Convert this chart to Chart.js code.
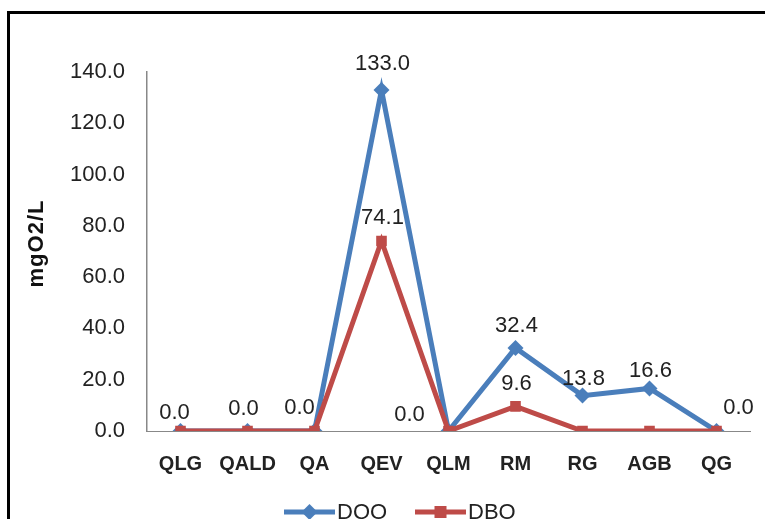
<!DOCTYPE html>
<html>
<head>
<meta charset="utf-8">
<script src="https://cdn.jsdelivr.net/npm/chart.js@4/dist/chart.umd.min.js"></script>
<style>
  html, body { margin: 0; padding: 0; background: #fff; overflow: hidden; width: 765px; height: 519px; }
  #frame { position: absolute; left: 7px; top: 11px; width: 770px; height: 540px;
           border-left: 3px solid #000; border-top: 3px solid #000; }
  #wrap { position: absolute; left: 0; top: 0; width: 765px; height: 540px; }
</style>
</head>
<body>
<div id="frame"></div>
<div id="wrap"><canvas id="chart" width="765" height="540"></canvas></div>
<script>
// Sampling sites
const sites = ['QLG', 'QALD', 'QA', 'QEV', 'QLM', 'RM', 'RG', 'AGB', 'QG'];
// Chemical oxygen demand (mgO2/L)
const dqo = [0.0, 0.0, 0.0, 133.0, 0.0, 32.4, 13.8, 16.6, 0.0];
// Biochemical oxygen demand (mgO2/L)
const dbo = [0.0, 0.0, 0.0, 74.1, 0.0, 9.6, 0.0, 0.0, 0.0];
// Value axis ticks
const yTicks = [0, 20, 40, 60, 80, 100, 120, 140];
const yTitle = 'mgO2/L';

const FONT = '"Liberation Sans", Arial, sans-serif';
const BLUE = '#4A7EBB';
const RED = '#BE4B48';

// Value labels: which points get a label and where it sits relative to the marker
const valueLabels = {
  id: 'valueLabels',
  afterDatasetsDraw(chart, args, opts) {
    const ctx = chart.ctx;
    ctx.save();
    ctx.font = '22px ' + FONT;
    ctx.fillStyle = '#222';
    ctx.textBaseline = 'middle';
    ctx.textAlign = 'center';
    opts.placements.forEach((place, di) => {
      const meta = chart.getDatasetMeta(di);
      const values = chart.data.datasets[di].data;
      meta.data.forEach((pt, i) => {
        const p = place[i];
        if (!p) return;
        ctx.fillText(values[i].toFixed(1), pt.x + p[0], pt.y + p[1]);
      });
    });
    ctx.restore();
  }
};

// Rotated value-axis title, centred on the plot height
const axisTitle = {
  id: 'axisTitle',
  afterDraw(chart, args, opts) {
    const ctx = chart.ctx;
    const area = chart.chartArea;
    ctx.save();
    ctx.translate(opts.x, (area.top + area.bottom) / 2 - 8);
    ctx.rotate(-Math.PI / 2);
    ctx.font = 'bold 22px ' + FONT;
    if ('letterSpacing' in ctx) ctx.letterSpacing = '1px';
    ctx.fillStyle = '#111';
    ctx.textAlign = 'center';
    ctx.textBaseline = 'middle';
    ctx.fillText(opts.text, 0, 0);
    ctx.restore();
  }
};

// Legend drawn as line + marker samples under the plot
const lineLegend = {
  id: 'lineLegend',
  afterDraw(chart, args, opts) {
    const ctx = chart.ctx;
    ctx.save();
    ctx.font = '22px ' + FONT;
    ctx.textBaseline = 'middle';
    chart.data.datasets.forEach((ds, i) => {
      const x0 = opts.items[i];
      const y = opts.y;
      ctx.strokeStyle = ds.borderColor;
      ctx.lineWidth = 5;
      ctx.beginPath();
      ctx.moveTo(x0, y);
      ctx.lineTo(x0 + 51, y);
      ctx.stroke();
      ctx.fillStyle = ds.borderColor;
      const cx = x0 + 25.5;
      if (ds.pointStyle === 'rectRot') {
        ctx.beginPath();
        ctx.moveTo(cx, y - 8); ctx.lineTo(cx + 8, y); ctx.lineTo(cx, y + 8); ctx.lineTo(cx - 8, y);
        ctx.closePath(); ctx.fill();
      } else {
        ctx.fillRect(cx - 6, y - 6, 12, 12);
      }
      ctx.fillStyle = '#222';
      ctx.textAlign = 'left';
      ctx.fillText(ds.label, x0 + 53, y + 1);
    });
    ctx.restore();
  }
};

new Chart(document.getElementById('chart'), {
  type: 'line',
  data: {
    labels: sites,
    datasets: [
      {
        label: 'DQO', data: dqo, order: 1,
        borderColor: BLUE, backgroundColor: BLUE,
        borderWidth: 5, pointStyle: 'rectRot', pointRadius: 8, pointHoverRadius: 8,
        pointBorderWidth: 0, tension: 0
      },
      {
        label: 'DBO', data: dbo, order: 0,
        borderColor: RED, backgroundColor: RED,
        borderWidth: 5, pointStyle: 'rect', pointRadius: 7.5, pointHoverRadius: 7.5,
        pointBorderWidth: 0, tension: 0
      }
    ]
  },
  options: {
    responsive: false,
    animation: false,
    events: [],
    layout: { padding: { left: 24, right: 15, top: 72, bottom: 49 } },
    scales: {
      x: {
        offset: true,
        grid: { display: false, drawTicks: false },
        border: { display: true, color: '#888', width: 1 },
        ticks: { font: { family: FONT, size: 20, weight: 'bold' }, color: '#222', padding: 21, maxRotation: 0 },
        afterFit(s) { s.height = 60; }
      },
      y: {
        min: 0, max: 140,
        afterBuildTicks(s) { s.ticks = yTicks.map(v => ({ value: v })); },
        grid: { display: false, drawTicks: false },
        border: { display: true, color: '#888', width: 1.5 },
        ticks: {
          font: { family: FONT, size: 22 }, color: '#222', padding: 22,
          callback: v => Number(v).toFixed(1)
        },
        afterFit(s) { s.width = 123; }
      }
    },
    plugins: {
      legend: { display: false },
      tooltip: { enabled: false },
      valueLabels: {
        placements: [
          [[-6, -18], [-4, -22], [-15, -23], [1, -26], [-39, -16], [1, -22], [1, -17], [1, -17], [22, -23]],
          [null, null, null, [1, -23], null, [1, -22], null, null, null]
        ]
      },
      axisTitle: { x: 37, text: yTitle },
      lineLegend: { y: 512, items: [284, 415] }
    }
  },
  plugins: [valueLabels, axisTitle, lineLegend]
});
</script>
</body>
</html>
